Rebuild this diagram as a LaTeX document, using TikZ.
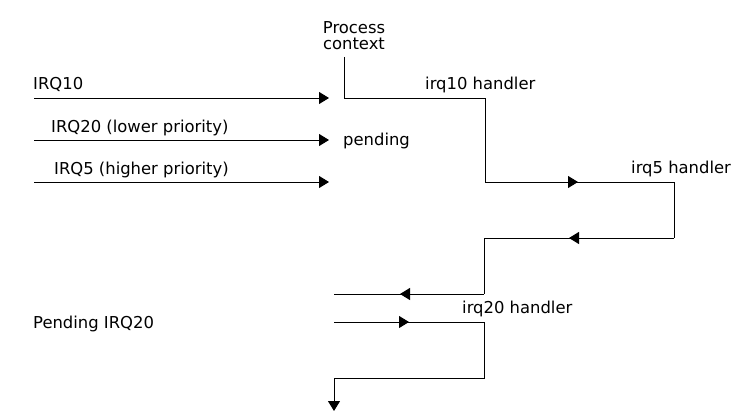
\documentclass[tikz,border=0pt]{standalone}
\usepackage{fontspec}
\setmainfont{DejaVu Sans}
\usetikzlibrary{arrows.meta,decorations.markings}
\begin{document}
\begin{tikzpicture}[x=1pt,y=-1pt,
  lbl/.style={inner sep=0pt,anchor=base west,font=\fontsize{16.4}{15}\selectfont},
  wire/.style={line width=1pt},
  tipend/.style={wire,-{Triangle[length=10pt,width=12pt]}},
  midtip/.style={wire,postaction={decorate},decoration={markings,
      mark=at position #1 with {\arrow{Triangle[length=10pt,width=12pt]}}}}
]
\useasboundingbox (0,0) rectangle (739,420);
% labels
\node[lbl,anchor=base,align=center] (pc) at (354,49) {Process\\context};
\node[lbl] (l10) at (33,89) {IRQ10};
\node[lbl] (l20) at (51,132) {IRQ20 (lower priority)};
\node[lbl] (l5) at (54,174) {IRQ5 (higher priority)};
\node[lbl] (pend) at (343,145) {pending};
\node[lbl] (h10) at (425,89) {irq10 handler};
\node[lbl] (h5) at (631,173) {irq5 handler};
\node[lbl] (h20) at (462,313) {irq20 handler};
\node[lbl] (p20) at (33,328) {Pending IRQ20};
% coordinates
\coordinate (a10) at (34,98);  \coordinate (b10) at (329,98);
\coordinate (a20) at (34,140); \coordinate (b20) at (329,140);
\coordinate (a5) at (34,182);  \coordinate (b5) at (329,182);
\coordinate (c0) at (344,57);
\coordinate (c1) at (344,98);
\coordinate (c2) at (485,98);
\coordinate (c3) at (485,182);
\coordinate (c4) at (674,182);
\coordinate (c5) at (674,238);
\coordinate (c6) at (484,238);
\coordinate (c7) at (484,294);
\coordinate (c8) at (334,294);
\coordinate (d0) at (334,322);
\coordinate (d1) at (484,322);
\coordinate (d2) at (484,378);
\coordinate (d3) at (334,378);
\coordinate (d4) at (334,411);
% incoming IRQs
\draw[tipend] (a10) -- (b10);
\draw[tipend] (a20) -- (b20);
\draw[tipend] (a5) -- (b5);
% process flow
\draw[wire] (c0) -- (c1) -- (c2) -- (c3);
\draw[midtip=93pt] (c3) -- (c4);
\draw[wire] (c4) -- (c5);
\draw[midtip=105pt] (c5) -- (c6);
\draw[wire] (c6) -- (c7);
\draw[midtip=84pt] (c7) -- (c8);
\draw[midtip=75pt] (d0) -- (d1);
\draw[wire] (d1) -- (d2) -- (d3);
\draw[tipend] (d3) -- (d4);
\end{tikzpicture}
\end{document}
